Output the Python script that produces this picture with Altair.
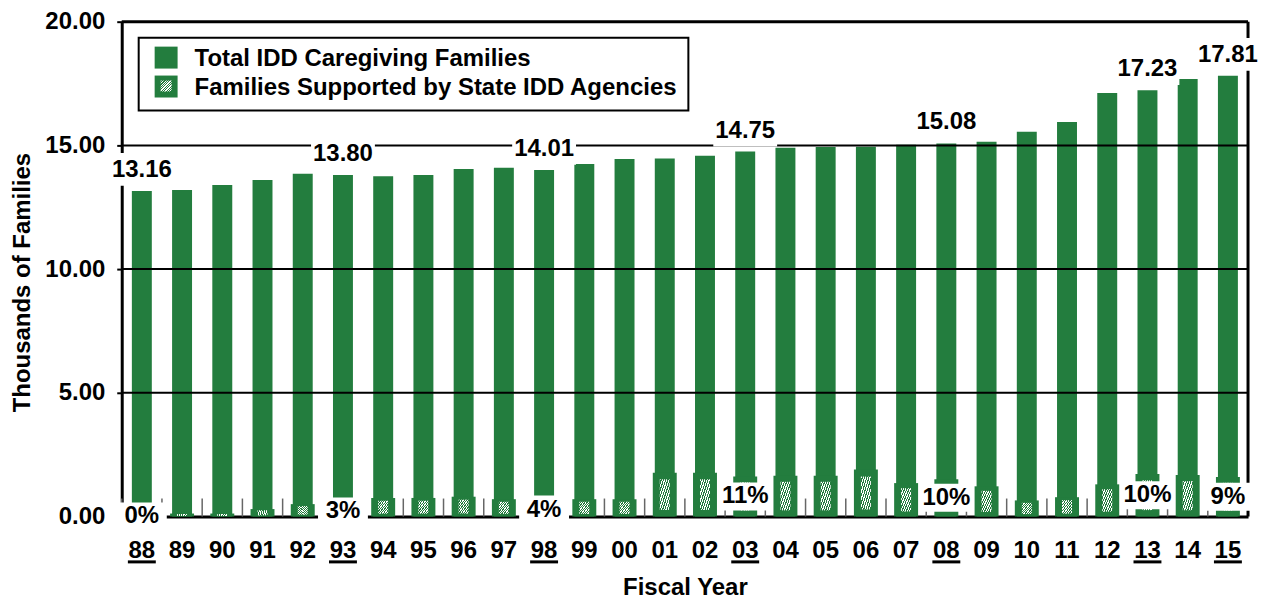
import altair as alt
import pandas as pd

# ---------------- data ----------------
years = ["88", "89", "90", "91", "92", "93", "94", "95", "96", "97", "98", "99", "00", "01",
         "02", "03", "04", "05", "06", "07", "08", "09", "10", "11", "12", "13", "14", "15"]
total = [13.16, 13.20, 13.40, 13.60, 13.85, 13.80, 13.75, 13.80, 14.05, 14.10, 14.01, 14.25,
         14.45, 14.47, 14.58, 14.75, 14.90, 14.93, 14.95, 15.03, 15.08, 15.15, 15.55, 15.95,
         17.12, 17.23, 17.68, 17.81]
supported = [0.00, 0.12, 0.12, 0.30, 0.50, 0.41, 0.75, 0.75, 0.80, 0.70, 0.56, 0.70, 0.70,
             1.77, 1.77, 1.62, 1.65, 1.65, 1.90, 1.35, 1.51, 1.22, 0.65, 0.78, 1.30, 1.72,
             1.68, 1.60]
highlight_years = ["88", "93", "98", "03", "08", "13", "15"]
highlight_pct = ["0%", "3%", "4%", "11%", "10%", "10%", "9%"]
y_ticks = [0, 5, 10, 15, 20]
grid_values = [5, 10, 15]
series_names = ["Total IDD Caregiving Families", "Families Supported by State IDD Agencies"]

pct_map = dict(zip(highlight_years, highlight_pct))
df = pd.DataFrame({
    "year": years,
    "total": total,
    "supported": supported,
    "hl": [y in pct_map for y in years],
    "pct": [pct_map.get(y, "") for y in years],
})
grid_df = pd.DataFrame({"v": grid_values})
one = pd.DataFrame({"k": [0]})

# ---------------- styles ----------------
GREEN = "#237D3E"
FONT = "Liberation Sans"
FS = 24
W, H = 1129, 496

N = 9
stops = []
for i in range(N):
    a, b, c = i / N, (i + 0.5) / N, (i + 1) / N
    stops += [alt.GradientStop(offset=a, color="white"), alt.GradientStop(offset=b, color="white"),
              alt.GradientStop(offset=b, color=GREEN), alt.GradientStop(offset=c, color=GREEN)]
hatch = alt.LinearGradient(gradient="linear", stops=stops, x1=0, y1=0, x2=1, y2=1)

xscale = alt.Scale(paddingInner=0, paddingOuter=0)
yscale = alt.Scale(domain=[0, 20], nice=False)

X = alt.X("year:N", sort=years, scale=xscale,
          axis=alt.Axis(title="Fiscal Year", labelAngle=0, ticks=False, domainColor="black",
                        domainWidth=3, labelFont=FONT, labelFontSize=FS, labelFontWeight="bold",
                        labelColor="black", labelPadding=22, titleFont=FONT, titleFontSize=FS,
                        titleFontWeight="bold", titleColor="black", titlePadding=13, zindex=0,
                        grid=False, bandPosition=0.5))
Y = alt.Y("total:Q", scale=yscale,
          axis=alt.Axis(title="Thousands of Families", values=y_ticks, format=".2f",
                        tickSize=5, tickWidth=2, tickColor="black", domainColor="black",
                        domainWidth=3, labelFont=FONT, labelFontSize=FS, labelFontWeight="bold",
                        labelColor="black", labelPadding=12, titleFont=FONT, titleFontSize=FS,
                        titleFontWeight="bold", titleColor="black", titleX=-99, titleY=261,
                        titleAngle=-90, titleAlign="center", titleBaseline="middle",
                        grid=False, zindex=0))

base = alt.Chart(df)

total_bars = base.mark_bar(color=GREEN, width=20).encode(x=X, y=Y)

band_ticks = base.mark_rule(color="#666666", strokeWidth=1.5).encode(
    x=alt.X("year:N", sort=years, scale=xscale, bandPosition=0),
    y=alt.value(H - 18), y2=alt.value(H))

sup_box = base.mark_bar(color=GREEN, width=24).encode(
    x=alt.X("year:N", sort=years, scale=xscale),
    y=alt.Y("supported:Q", scale=yscale), y2=alt.datum(0))

sup_hatch = base.transform_calculate(
    ht="datum.supported * 0.85", hb="datum.supported * 0.15"
).mark_bar(color=hatch, width=10).encode(
    x=alt.X("year:N", sort=years, scale=xscale),
    y=alt.Y("ht:Q", scale=yscale), y2="hb:Q")

grid = alt.Chart(grid_df).mark_rule(color="black", strokeWidth=2).encode(
    y=alt.Y("v:Q", scale=yscale))

top_border = alt.Chart(one).mark_rule(color="black", strokeWidth=3).encode(
    x=alt.value(0), x2=alt.value(W), y=alt.value(0))
right_border = alt.Chart(one).mark_rule(color="black", strokeWidth=3).encode(
    x=alt.value(W), y=alt.value(0), y2=alt.value(H))

hl = base.transform_filter("datum.hl")

num_box = hl.mark_point(shape="M-1,-1.19H1V-0.16H-1Z", size=4096, filled=True, fill="white",
                        opacity=1, strokeWidth=0).encode(
    x=alt.X("year:N", sort=years, scale=xscale), y=alt.Y("total:Q", scale=yscale))
num_text = hl.mark_text(font=FONT, fontSize=FS, fontWeight="bold", color="black",
                        baseline="middle", dy=-21).encode(
    x=alt.X("year:N", sort=years, scale=xscale), y=alt.Y("total:Q", scale=yscale),
    text=alt.Text("total:Q", format=".2f"))

pct_base = hl.transform_calculate(half="datum.supported / 2")
pct_box = pct_base.mark_point(shape="M-1,-0.56H1V0.56H-1Z", size=2500, filled=True,
                              fill="white", opacity=1, strokeWidth=0).encode(
    x=alt.X("year:N", sort=years, scale=xscale), y=alt.Y("half:Q", scale=yscale))
pct_text = pct_base.mark_text(font=FONT, fontSize=FS, fontWeight="bold", color="black",
                              baseline="middle").encode(
    x=alt.X("year:N", sort=years, scale=xscale), y=alt.Y("half:Q", scale=yscale),
    text="pct:N")

underline = hl.mark_bar(color="black", width=28).encode(
    x=alt.X("year:N", sort=years, scale=xscale), y=alt.value(540), y2=alt.value(543))

# ---------------- legend (drawn) ----------------
leg_box = alt.Chart(one).mark_rect(fill="white", stroke="black", strokeWidth=2).encode(
    x=alt.value(17), x2=alt.value(568), y=alt.value(16), y2=alt.value(89))
leg_sq1 = alt.Chart(one).mark_rect(color=GREEN).encode(
    x=alt.value(33), x2=alt.value(56), y=alt.value(25), y2=alt.value(47))
leg_sq2 = alt.Chart(one).mark_rect(color=GREEN).encode(
    x=alt.value(33), x2=alt.value(56), y=alt.value(54), y2=alt.value(76))
leg_hatch = alt.Chart(one).mark_rect(color=hatch).encode(
    x=alt.value(39), x2=alt.value(50), y=alt.value(59), y2=alt.value(70))
leg_t1 = alt.Chart(one).mark_text(text=series_names[0], font=FONT, fontSize=FS,
                                  fontWeight="bold", color="black", align="left",
                                  baseline="middle").encode(x=alt.value(73), y=alt.value(37))
leg_t2 = alt.Chart(one).mark_text(text=series_names[1], font=FONT, fontSize=FS,
                                  fontWeight="bold", color="black", align="left",
                                  baseline="middle").encode(x=alt.value(73), y=alt.value(66))

chart = alt.layer(
    total_bars, band_ticks, sup_box, sup_hatch, grid, top_border, right_border,
    num_box, pct_box, num_text, pct_text, underline,
    leg_box, leg_sq1, leg_sq2, leg_hatch, leg_t1, leg_t2,
).properties(
    width=W, height=H,
    autosize=alt.AutoSizeParams(type="none"),
    padding={"left": 114, "top": 13, "right": 10, "bottom": 90},
    background="white",
).configure_view(strokeWidth=0)

chart.save("out.html", embed_options={"renderer": "svg", "actions": False})
